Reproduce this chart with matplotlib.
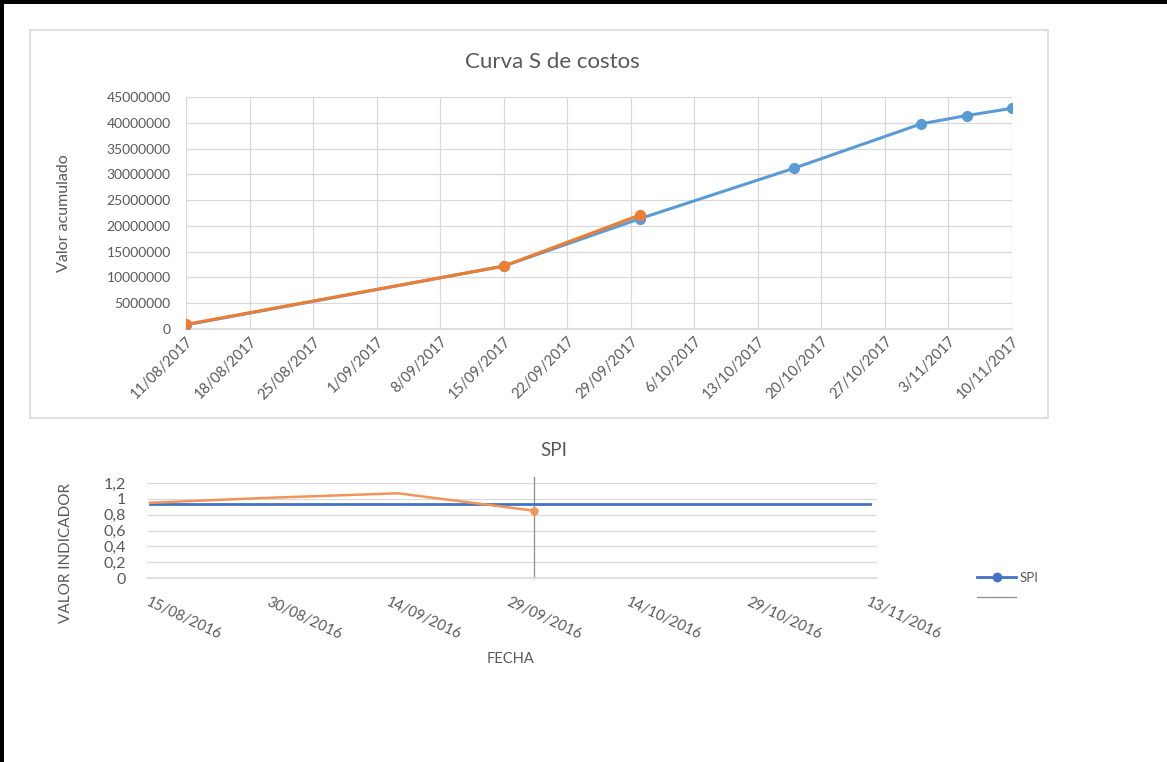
import matplotlib
matplotlib.use("Agg")
import matplotlib.pyplot as plt
from matplotlib.lines import Line2D
from matplotlib.patches import Rectangle
import pandas as pd

plt.rcParams['font.family'] = ['Lato', 'DejaVu Sans']

# ---------------- data ----------------
plan_dates = ['2017-08-11', '2017-09-15', '2017-09-30', '2017-10-17',
              '2017-10-31', '2017-11-05', '2017-11-10']
plan_values = [800000, 12200000, 21400000, 31200000, 39800000, 41400000, 42800000]

real_dates = ['2017-08-11', '2017-09-15', '2017-09-30']
real_values = [900000, 12200000, 22100000]

top_tick_dates = ['2017-08-11', '2017-08-18', '2017-08-25', '2017-09-01', '2017-09-08',
                  '2017-09-15', '2017-09-22', '2017-09-29', '2017-10-06', '2017-10-13',
                  '2017-10-20', '2017-10-27', '2017-11-03', '2017-11-10']
top_tick_labels = ['11/08/2017', '18/08/2017', '25/08/2017', '1/09/2017', '8/09/2017',
                   '15/09/2017', '22/09/2017', '29/09/2017', '6/10/2017', '13/10/2017',
                   '20/10/2017', '27/10/2017', '3/11/2017', '10/11/2017']
top_yticks = [0, 5000000, 10000000, 15000000, 20000000, 25000000, 30000000,
              35000000, 40000000, 45000000]

spi_dates = ['2016-08-15', '2016-11-13']
spi_values = [0.94, 0.94]

real_spi_dates = ['2016-08-15', '2016-08-29', '2016-09-15', '2016-10-02']
real_spi_values = [0.95, 1.01, 1.07, 0.85]

cut_date = '2016-10-02'

bot_tick_dates = ['2016-08-15', '2016-08-30', '2016-09-14', '2016-09-29',
                  '2016-10-14', '2016-10-29', '2016-11-13']
bot_tick_labels = ['15/08/2016', '30/08/2016', '14/09/2016', '29/09/2016',
                   '14/10/2016', '29/10/2016', '13/11/2016']
bot_yticks = [0, 0.2, 0.4, 0.6, 0.8, 1.0, 1.2]
bot_ytick_labels = ['0', '0,2', '0,4', '0,6', '0,8', '1', '1,2']

# ---------------- figure ----------------
W, H = 1167, 762
fig = plt.figure(figsize=(W / 100, H / 100), dpi=100)
fig.patch.set_facecolor('white')

def rect(x0, y0, x1, y1):
    return [x0 / W, 1 - y1 / H, (x1 - x0) / W, (y1 - y0) / H]

TXT = '#595959'
GRID = '#d9d9d9'
BLUE = '#5B9BD5'
ORANGE = '#ED7D31'

# frame of the top chart
fig.add_artist(Rectangle((30 / W, 1 - 418 / H), (1048 - 30) / W, (418 - 30) / H,
                         transform=fig.transFigure, fill=False, edgecolor=GRID, lw=1.2))
# black page borders (top & left)
fig.add_artist(Rectangle((0, 1 - 4 / H), 1, 4 / H, transform=fig.transFigure,
                         color='black', lw=0))
fig.add_artist(Rectangle((0, 0), 4 / W, 1, transform=fig.transFigure,
                         color='black', lw=0))

# ---------------- top chart ----------------
ax1 = fig.add_axes(rect(186, 97, 1012, 329))
pd_plan = pd.to_datetime(plan_dates)
pd_real = pd.to_datetime(real_dates)
ax1.plot(pd_plan, plan_values, color=BLUE, lw=2.2, marker='o', ms=7, zorder=3)
ax1.plot(pd_real, real_values, color=ORANGE, lw=2.2, marker='o', ms=7, zorder=4)

tick_d = pd.to_datetime(top_tick_dates)
ax1.set_xlim(tick_d[0], tick_d[-1])
ax1.set_ylim(0, 45000000)
ax1.set_xticks(tick_d)
ax1.set_xticklabels(top_tick_labels, rotation=45, ha='right', va='top',
                    rotation_mode='anchor', color=TXT, fontsize=10.5)
ax1.set_yticks(top_yticks)
ax1.set_yticklabels([str(v) for v in top_yticks], color=TXT, fontsize=10)
ax1.tick_params(axis='x', length=0, pad=4)
ax1.tick_params(axis='y', length=0, pad=11)
ax1.grid(True, color=GRID, lw=0.9)
ax1.set_axisbelow(True)
for s in ['top', 'right', 'left']:
    ax1.spines[s].set_visible(False)
ax1.spines['bottom'].set_color(GRID)
ax1.spines['bottom'].set_linewidth(1.2)
ax1.set_ylabel('Valor acumulado', color=TXT, fontsize=11.5)
ax1.yaxis.set_label_coords((71 - 186) / 826, (329 - 213) / 232)
fig.text(552 / W, 1 - 62 / H, 'Curva S de costos', ha='center', va='center',
         color=TXT, fontsize=16)

# ---------------- bottom chart ----------------
ax2 = fig.add_axes(rect(147, 483, 877, 578))
d_spi = pd.to_datetime(spi_dates)
d_real = pd.to_datetime(real_spi_dates)
ax2.plot(d_spi, spi_values, color='#4472C4', lw=2.0, zorder=3)
ax2.plot(d_real, real_spi_values, color='#F0955A', lw=1.8, zorder=4)
ax2.plot(d_real[-1:], real_spi_values[-1:], color='#F0955A', marker='o', ms=5,
         lw=0, zorder=4)
cut = pd.Timestamp(cut_date)
ax2.plot([cut, cut], [0, 1.27], color='#8c8c8c', lw=0.9, clip_on=False, zorder=2)

btick = pd.to_datetime(bot_tick_dates)
ax2.set_xlim(btick[0] - pd.Timedelta(hours=9), btick[-1] + pd.Timedelta(hours=21))
ax2.set_ylim(0, 1.2)
ax2.set_xticks(btick)
ax2.set_xticklabels(bot_tick_labels, rotation=-25, ha='left', va='top',
                    rotation_mode='anchor', color=TXT, fontsize=10.5)
ax2.set_yticks(bot_yticks)
ax2.set_yticklabels(bot_ytick_labels, color=TXT, fontsize=11.5)
ax2.tick_params(axis='x', length=0, pad=12)
ax2.tick_params(axis='y', length=0, pad=15)
ax2.grid(True, axis='y', color=GRID, lw=0.9)
ax2.set_axisbelow(True)
for s in ['top', 'right', 'left']:
    ax2.spines[s].set_visible(False)
ax2.spines['bottom'].set_color(GRID)
ax2.spines['bottom'].set_linewidth(1.2)
ax2.set_ylabel('VALOR INDICADOR', color=TXT, fontsize=11)
ax2.yaxis.set_label_coords((73 - 147) / 730, (578 - 553) / 95)
fig.text(554 / W, 1 - 451 / H, 'SPI', ha='center', va='center', color=TXT,
         fontsize=13.5)
fig.text(511 / W, 1 - 659 / H, 'FECHA', ha='center', va='center', color=TXT,
         fontsize=10.5)

handles = [Line2D([0], [0], color='#4472C4', lw=2, marker='o', ms=6),
           Line2D([0], [0], color='#8c8c8c', lw=0.9)]
fig.legend(handles, ['SPI', ''], loc='center left',
           bbox_to_anchor=(965 / W, 1 - 588 / H), frameon=False,
           fontsize=9.5, labelcolor=TXT, handlelength=3.0, handletextpad=0.2,
           labelspacing=0.6)

fig.savefig('out.png', dpi=100, facecolor='white')
